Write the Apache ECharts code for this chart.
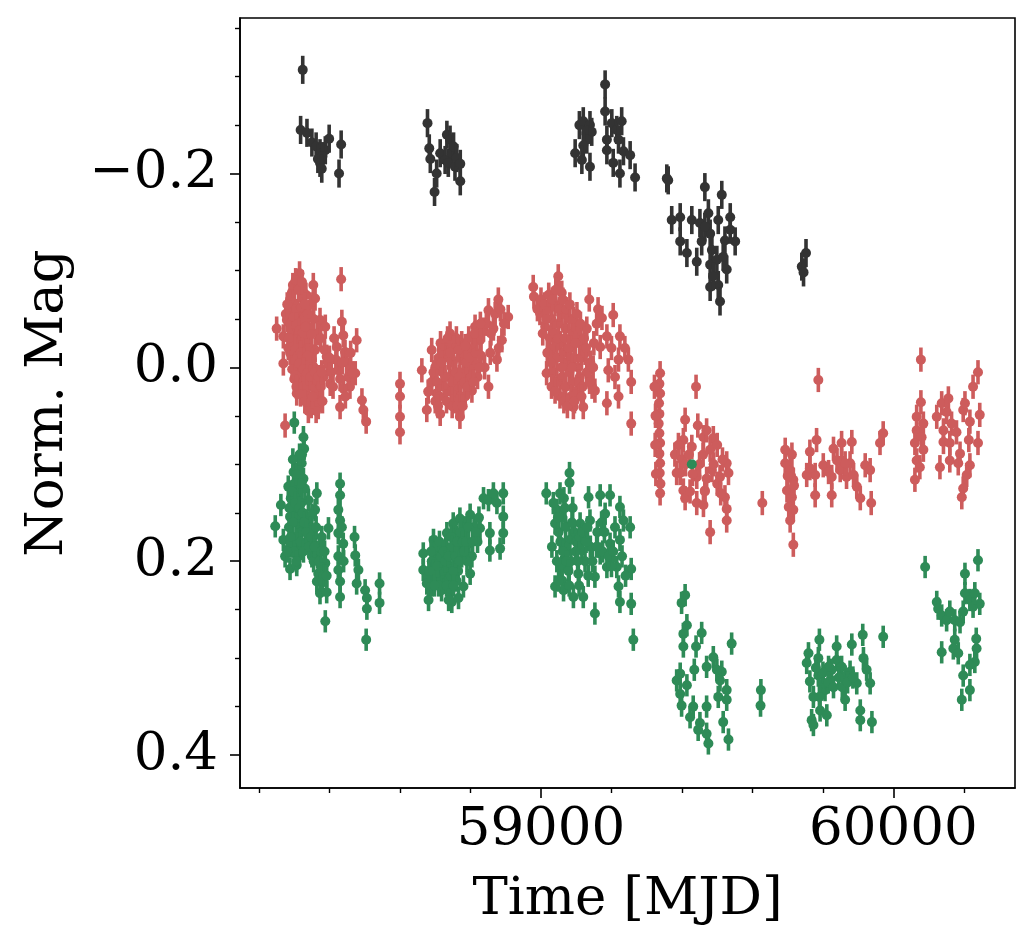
<!DOCTYPE html>
<html>
<head>
<meta charset="utf-8">
<script src="https://cdn.jsdelivr.net/npm/echarts@6/dist/echarts.min.js"></script>
<style>
html,body{margin:0;padding:0;background:#fff;}
#chart{width:1035px;height:949px;}
</style>
</head>
<body>
<div id="chart"></div>
<script>
// light curve points [MJD, norm. mag]
var blackPts = [
	[58324,-0.307],[58318,-0.245],[58336,-0.242],[58350,-0.232],[58362,-0.228],[58373,-0.221],[58388,-0.224],[58373,-0.211],[58367,-0.215],[58380,-0.218],[58378,-0.205],[58399,-0.236],[58433,-0.230],[58427,-0.200],
	[58678,-0.252],[58683,-0.226],[58686,-0.215],[58698,-0.181],[58704,-0.200],[58714,-0.221],[58728,-0.214],[58733,-0.240],[58737,-0.211],[58742,-0.235],[58747,-0.221],[58752,-0.228],[58756,-0.207],[58761,-0.216],[58771,-0.210],[58771,-0.192],
	[59182,-0.292],[59182,-0.264],[59109,-0.250],[59120,-0.254],[59139,-0.250],[59144,-0.243],[59130,-0.235],[59120,-0.229],[59097,-0.221],[59116,-0.214],[59139,-0.207],[59187,-0.235],[59187,-0.224],[59201,-0.252],[59215,-0.245],[59229,-0.254],[59220,-0.235],[59205,-0.211],[59224,-0.200],[59234,-0.223],[59253,-0.219],[59267,-0.196],[59357,-0.195],[59361,-0.193],
	[59465,-0.186],[59513,-0.178],[59371,-0.152],[59395,-0.155],[59428,-0.152],[59451,-0.149],[59475,-0.159],[59503,-0.152],[59537,-0.155],[59395,-0.130],[59414,-0.118],[59442,-0.109],[59456,-0.130],[59480,-0.138],[59485,-0.121],[59480,-0.106],[59499,-0.111],[59522,-0.131],[59551,-0.130],[59527,-0.101],[59480,-0.083],[59503,-0.085],[59508,-0.068],[59489,-0.094],[59517,-0.114],[59537,-0.142],[59465,-0.145],
	[59752,-0.118],[59740,-0.104],[59745,-0.098]
];
var redPts = [
	[58315,-0.097],[58354,-0.085],[58433,-0.091],[58293,-0.077],[58326,-0.077],[58359,-0.071],[58279,-0.049],[58250,-0.040],[58269,-0.032],[58317,-0.046],[58373,-0.049],[58388,-0.042],[58435,-0.047],[58439,-0.033],[58477,-0.028],[58288,-0.015],[58326,-0.021],[58359,-0.018],[58392,-0.011],[58421,-0.021],[58444,-0.016],[58269,-0.004],[58317,0.003],[58354,-0.001],[58383,0.010],[58425,0.003],[58458,-0.001],[58473,0.006],[58307,0.027],[58359,0.034],[58402,0.017],[58458,0.020],[58492,0.034],[58496,0.044],[58504,0.056],[58430,0.041],[58368,0.041],[58274,0.060],
	[58290,-0.060],[58300,-0.066],[58310,-0.058],[58320,-0.062],[58330,-0.052],[58340,-0.040],[58295,-0.035],[58305,-0.030],[58315,-0.025],[58335,-0.028],[58345,-0.020],[58350,-0.008],[58298,-0.010],[58308,-0.002],[58320,0.006],[58332,0.012],[58342,0.020],[58355,0.018],[58365,0.024],[58375,0.020],[58312,0.014],[58325,0.020],[58338,0.030],[58348,0.040],[58362,0.045],[58300,0.012],[58283,-0.020],[58276,-0.055],[58333,-0.075],[58345,-0.065],[58355,-0.050],[58365,-0.035],[58375,-0.030],[58386,-0.018],[58395,-0.005],[58405,0.005],[58413,-0.030],[58418,-0.008],[58430,0.012],[58440,0.022],[58448,-0.005],[58453,0.010],[58465,0.006],
	[58288,-0.070],[58296,-0.085],[58304,-0.090],[58312,-0.080],[58322,-0.088],[58330,-0.065],[58338,-0.055],[58290,-0.045],[58298,-0.052],[58306,-0.044],[58314,-0.038],[58324,-0.036],[58332,-0.042],[58348,-0.034],[58292,-0.025],[58302,-0.018],[58310,-0.012],[58318,-0.015],[58328,-0.008],[58338,-0.012],[58344,0.000],[58294,0.002],[58304,0.008],[58314,-0.004],[58326,0.002],[58336,0.006],[58346,0.010],[58358,0.005],[58368,0.010],[58378,0.005],[58306,0.020],[58318,0.028],[58330,0.035],[58340,0.045],[58352,0.030],[58280,-0.065],[58284,-0.030],[58400,-0.010],[58410,0.020],[58436,-0.005],[58445,0.030],[58460,-0.015],[58380,0.035],
	[58600,0.017],[58600,0.030],[58600,0.051],[58600,0.067],
	[58662,0.003],[58676,0.044],[58690,-0.018],[58714,0.048],[58704,0.027],[58742,-0.035],[58770,0.051],[58770,0.034],[58804,0.024],[58813,-0.042],[58837,-0.039],[58851,-0.059],[58879,-0.070],[58907,-0.052],[58856,-0.015],[58875,-0.008],[58851,0.020],[58889,-0.028],[58827,-0.028],
	[58700,0.000],[58710,-0.010],[58720,0.005],[58730,-0.020],[58740,0.010],[58750,-0.005],[58760,0.015],[58770,-0.010],[58780,0.005],[58790,-0.015],[58800,0.000],[58810,-0.005],[58820,0.010],[58725,0.020],[58745,0.025],[58755,0.035],[58765,0.020],[58785,0.030],[58795,0.012],[58715,-0.025],[58735,-0.030],[58760,-0.030],[58775,-0.025],[58795,-0.030],[58805,-0.020],[58690,0.015],[58680,0.025],[58700,0.035],[58830,-0.012],[58840,0.000],[58845,-0.045],[58865,-0.040],[58870,-0.055],[58885,-0.060],[58895,-0.045],
	[58695,0.005],[58705,0.015],[58712,0.030],[58722,-0.012],[58728,0.010],[58738,-0.010],[58748,0.015],[58752,-0.020],[58758,0.005],[58768,0.010],[58772,0.030],[58778,-0.015],[58782,0.015],[58788,-0.005],[58792,0.020],[58798,-0.010],[58802,0.010],[58808,0.015],[58815,-0.015],[58818,-0.030],[58825,0.000],[58708,0.040],[58732,0.035],[58748,0.040],[58762,0.040],[58778,0.040],[58718,-0.005],[58742,-0.015],[58765,-0.018],[58785,-0.022],[58812,-0.035],[58828,-0.045],[58858,-0.035],[58880,-0.020],
	[58978,-0.083],[58980,-0.073],[59049,-0.094],[58997,-0.056],[59012,-0.042],[59059,-0.077],[59137,-0.070],[59173,-0.051],[59205,-0.054],[59224,-0.032],[59248,-0.008],[59256,0.015],[59256,0.058],[59016,0.006],[59054,0.030],[59092,0.041],[59120,0.041],[59153,0.024],[59187,0.037],[59220,0.030],[59191,0.003],[59220,-0.008],[59168,-0.021],[59187,-0.032],
	[59020,-0.060],[59030,-0.050],[59040,-0.065],[59050,-0.045],[59060,-0.055],[59070,-0.040],[59080,-0.050],[59090,-0.035],[59100,-0.040],[59110,-0.025],[59025,-0.030],[59035,-0.020],[59045,-0.010],[59055,-0.025],[59065,-0.015],[59075,-0.005],[59085,-0.020],[59095,-0.010],[59105,0.000],[59115,-0.010],[59125,-0.015],[59035,0.005],[59045,0.015],[59060,0.010],[59070,0.020],[59080,0.005],[59090,0.015],[59100,0.025],[59110,0.010],[59130,0.005],[59140,-0.005],[59150,-0.025],[59065,0.035],[59085,0.030],[59030,0.020],[59005,-0.035],[59130,-0.040],[59145,0.020],
	[58990,-0.060],[59000,-0.070],[59010,-0.065],[59015,-0.050],[59022,-0.075],[59032,-0.070],[59042,-0.080],[59052,-0.060],[59062,-0.070],[59072,-0.060],[59082,-0.065],[59092,-0.050],[59102,-0.055],[59112,-0.045],[59122,-0.030],[59018,-0.015],[59028,-0.005],[59038,-0.035],[59048,-0.030],[59058,0.000],[59068,-0.030],[59078,-0.020],[59088,0.000],[59098,-0.025],[59108,0.015],[59118,0.020],[59128,-0.020],[59138,0.015],[59148,0.000],[59158,-0.045],[59040,0.025],[59075,0.040],[59095,0.035],[59115,0.030],[59162,-0.060],[59200,-0.020],[59210,0.010],[59238,-0.020],
	[59338,0.006],[59336,0.017],[59338,0.027],[59335,0.037],[59336,0.048],[59334,0.058],[59336,0.068],[59338,0.078],[59336,0.089],[59338,0.099],[59337,0.109],[59339,0.120],[59338,0.130],[59322,0.020],[59325,0.050],[59324,0.080],[59326,0.110],
	[59440,0.020],[59409,0.054],[59404,0.075],[59428,0.082],[59461,0.072],[59489,0.073],[59395,0.109],[59404,0.127],[59442,0.113],[59465,0.127],[59442,0.140],[59485,0.106],[59508,0.113],[59527,0.099],[59532,0.109],[59522,0.134],[59628,0.140],[59480,0.170],[59527,0.158],[59527,0.146],[59461,0.142],[59409,0.135],[59385,0.109],[59423,0.128],[59465,0.128],
	[59380,0.090],[59390,0.080],[59400,0.095],[59410,0.100],[59420,0.090],[59430,0.110],[59450,0.100],[59460,0.090],[59470,0.115],[59480,0.085],[59490,0.100],[59500,0.120],[59510,0.130],[59445,0.060],[59470,0.065],[59500,0.080],[59515,0.095],
	[59787,0.013],[59693,0.099],[59707,0.106],[59716,0.116],[59698,0.127],[59712,0.134],[59703,0.144],[59716,0.147],[59707,0.158],[59716,0.183],[59693,0.085],[59712,0.090],[59700,0.112],[59718,0.122],[59763,0.087],[59754,0.111],[59778,0.111],[59782,0.075],[59778,0.132],[59801,0.101],[59825,0.113],[59825,0.132],[59830,0.084],[59853,0.078],[59853,0.096],[59849,0.106],[59882,0.077],[59877,0.099],[59867,0.113],[59896,0.123],[59906,0.135],[59920,0.101],[59934,0.106],[59937,0.140],[59962,0.078],[59971,0.068],[59816,0.108],[59840,0.096],[59863,0.099],[59887,0.111],[59763,0.104],
	[60078,-0.008],[60078,0.036],[60066,0.051],[60085,0.058],[60066,0.065],[60080,0.072],[60061,0.078],[60085,0.085],[60066,0.096],[60075,0.103],[60061,0.116],[60123,0.051],[60137,0.037],[60156,0.032],[60151,0.046],[60142,0.065],[60142,0.077],[60165,0.058],[60179,0.067],[60160,0.078],[60132,0.103],[60160,0.096],[60184,0.099],[60198,0.044],[60203,0.037],[60217,0.056],[60226,0.020],[60240,0.005],[60245,0.049],[60240,0.078],[60214,0.075],[60217,0.101],[60208,0.111],[60198,0.125],[60194,0.134],[60189,0.089]
];
var greenPts = [
	[58300,0.057],[58326,0.072],[58328,0.084],[58246,0.164],[58262,0.142],[58274,0.195],[58288,0.208],[58307,0.204],[58312,0.195],[58298,0.108],[58321,0.099],[58283,0.123],[58326,0.115],[58364,0.130],[58359,0.147],[58288,0.154],[58317,0.165],[58331,0.182],[58354,0.175],[58350,0.195],[58368,0.213],[58364,0.221],[58373,0.233],[58392,0.232],[58388,0.202],[58397,0.166],[58388,0.262],[58430,0.120],[58430,0.132],[58425,0.147],[58430,0.158],[58425,0.171],[58439,0.182],[58425,0.195],[58425,0.209],[58430,0.221],[58430,0.237],[58471,0.175],[58473,0.194],[58482,0.209],[58477,0.223],[58501,0.230],[58506,0.238],[58506,0.249],[58542,0.223],[58542,0.243],[58504,0.281],[58269,0.178],[58307,0.134],[58340,0.137],[58336,0.158],[58373,0.185],[58350,0.152],[58302,0.182],
	[58290,0.135],[58295,0.145],[58300,0.150],[58310,0.125],[58315,0.160],[58320,0.170],[58305,0.175],[58285,0.165],[58292,0.185],[58310,0.190],[58320,0.140],[58330,0.125],[58345,0.165],[58355,0.200],[58365,0.190],[58375,0.205],[58380,0.220],[58378,0.175],[58300,0.120],[58312,0.105],[58322,0.090],
	[58286,0.145],[58294,0.128],[58302,0.140],[58308,0.155],[58314,0.145],[58318,0.120],[58324,0.150],[58328,0.160],[58296,0.160],[58290,0.175],[58300,0.190],[58306,0.200],[58318,0.180],[58326,0.190],[58334,0.170],[58342,0.185],[58348,0.175],[58358,0.185],[58362,0.165],[58370,0.200],[58376,0.190],[58384,0.215],[58386,0.190],[58392,0.215],[58305,0.110],[58315,0.090],[58296,0.095],[58280,0.190],[58440,0.200],[58435,0.165],
	[58666,0.192],[58666,0.209],[58676,0.223],[58681,0.240],[58695,0.178],[58704,0.195],[58718,0.213],[58718,0.230],[58747,0.242],[58766,0.238],[58733,0.171],[58751,0.161],[58770,0.156],[58799,0.152],[58794,0.182],[58804,0.195],[58799,0.213],[58780,0.226],[58827,0.166],[58837,0.135],[58855,0.171],[58855,0.189],[58884,0.187],[58893,0.171],[58893,0.130],[58893,0.154],[58875,0.140],[58851,0.137],[58865,0.130],
	[58690,0.200],[58700,0.215],[58710,0.190],[58720,0.200],[58730,0.185],[58740,0.205],[58750,0.190],[58760,0.175],[58770,0.185],[58780,0.170],[58790,0.200],[58700,0.185],[58710,0.225],[58725,0.210],[58735,0.220],[58745,0.175],[58755,0.205],[58765,0.210],[58775,0.195],[58785,0.165],[58690,0.225],[58740,0.230],[58760,0.220],[58810,0.165],[58820,0.180],
	[58682,0.210],[58688,0.190],[58694,0.210],[58698,0.225],[58706,0.205],[58712,0.180],[58716,0.195],[58724,0.190],[58728,0.200],[58732,0.225],[58738,0.195],[58744,0.215],[58748,0.185],[58752,0.210],[58758,0.195],[58762,0.180],[58768,0.200],[58772,0.170],[58778,0.180],[58782,0.190],[58788,0.180],[58794,0.165],[58806,0.180],[58815,0.170],[58824,0.155],[58752,0.225],[58738,0.240],
	[59015,0.130],[59081,0.109],[59081,0.119],[59054,0.130],[59135,0.134],[59168,0.132],[59196,0.132],[59224,0.144],[59253,0.165],[59045,0.147],[59040,0.161],[59031,0.185],[59040,0.226],[59064,0.230],[59092,0.237],[59120,0.237],[59153,0.254],[59224,0.242],[59256,0.244],[59256,0.208],[59262,0.281],[59059,0.206],[59082,0.178],[59111,0.161],[59139,0.158],[59116,0.189],[59106,0.213],[59153,0.216],[59182,0.151],[59196,0.182],[59187,0.206],[59215,0.206],[59220,0.226],[59224,0.178],[59234,0.158],[59168,0.192],
	[59050,0.170],[59060,0.155],[59070,0.165],[59075,0.190],[59085,0.200],[59095,0.170],[59065,0.135],[59090,0.145],[59100,0.180],[59060,0.220],[59070,0.185],[59045,0.200],[59125,0.200],[59140,0.185],[59160,0.170],[59175,0.190],[59200,0.205],[59210,0.165],
	[59035,0.140],[59048,0.155],[59055,0.180],[59062,0.190],[59068,0.145],[59072,0.200],[59078,0.210],[59088,0.160],[59098,0.190],[59104,0.200],[59110,0.175],[59118,0.170],[59128,0.180],[59132,0.165],[59146,0.200],[59158,0.185],[59172,0.160],[59180,0.170],[59192,0.195],[59205,0.190],[59230,0.195],[59240,0.215],[59050,0.220],[59080,0.225],[59108,0.225],[59134,0.215],
	[59409,0.235],[59399,0.243],[59414,0.266],[59404,0.275],[59404,0.288],[59456,0.274],[59440,0.288],[59541,0.285],[59435,0.312],[59470,0.309],[59489,0.299],[59513,0.314],[59385,0.323],[59395,0.316],[59414,0.328],[59395,0.337],[59399,0.349],[59432,0.350],[59470,0.350],[59503,0.340],[59527,0.333],[59527,0.343],[59423,0.361],[59451,0.367],[59446,0.374],[59470,0.378],[59475,0.388],[59517,0.366],[59532,0.384],[59624,0.333],[59623,0.349],[59508,0.323],[59499,0.312],
	[59790,0.281],[59759,0.295],[59754,0.305],[59787,0.300],[59763,0.324],[59773,0.340],[59768,0.364],[59773,0.369],[59792,0.354],[59811,0.359],[59806,0.333],[59787,0.318],[59839,0.288],[59839,0.302],[59825,0.312],[59853,0.309],[59863,0.319],[59882,0.286],[59913,0.276],[59915,0.300],[59924,0.312],[59934,0.326],[59896,0.326],[59863,0.343],[59906,0.354],[59906,0.364],[59939,0.366],[59971,0.278],[59877,0.314],[59816,0.309],[59801,0.326],
	[59800,0.315],[59815,0.325],[59830,0.330],[59845,0.320],[59855,0.330],[59870,0.325],[59885,0.320],[59790,0.340],[59780,0.310],
	[60090,0.206],[60240,0.199],[60203,0.213],[60203,0.233],[60123,0.242],[60127,0.249],[60137,0.256],[60151,0.261],[60160,0.252],[60174,0.261],[60189,0.263],[60198,0.252],[60217,0.240],[60226,0.247],[60245,0.244],[60231,0.233],[60137,0.294],[60174,0.281],[60170,0.290],[60184,0.295],[60235,0.280],[60236,0.290],[60231,0.304],[60217,0.307],[60198,0.318],[60217,0.333],[60194,0.343]
];
// lone green point sitting inside the red cloud (no visible error bar)
var greenOdd = [[59428,0.100]];

// typical 1-sigma errors per band
var blackErr = 0.0145;
var redErr = 0.0125;
var greenErr = 0.0115;
var greenOddErr = 0.002;

// axis ticks
var xMajor = [59000, 60000];
var xMinor = [58200, 58400, 58600, 58800, 59200, 59400, 59600, 59800, 60200];
var yMajor = [-0.2, 0.0, 0.2, 0.4];
var yMinor = [-0.35, -0.3, -0.25, -0.15, -0.1, -0.05, 0.05, 0.1, 0.15, 0.25, 0.3, 0.35];

var font = 'DejaVu Serif';
var fs = 53;

function withErr(pts, e){
	return pts.map(function(p){ return [p[0], p[1], e]; });
}

function renderErr(params, api){
	var x = api.value(0), y = api.value(1), e = api.value(2);
	var c = api.coord([x, y]);
	var lo = api.coord([x, y - e]);
	var hi = api.coord([x, y + e]);
	var color = api.visual('color');
	return {
		type: 'group',
		children: [
			{type: 'line', shape: {x1: c[0], y1: lo[1], x2: c[0], y2: hi[1]}, style: {stroke: color, lineWidth: 3.6}},
			{type: 'circle', shape: {cx: c[0], cy: c[1], r: 5}, style: {fill: color}}
		]
	};
}

var chart = echarts.init(document.getElementById('chart'));
var xBase = {type: 'value', min: 58146, max: 60345, splitLine: {show: false}, position: 'bottom'};
var yBase = {type: 'value', min: -0.3605, max: 0.434, inverse: true, splitLine: {show: false}, position: 'left'};

var option = {
	animation: false,
	grid: {left: 240, right: 20, top: 18, bottom: 161, show: true, borderColor: '#000', borderWidth: 1.6},
	xAxis: [
		Object.assign({}, xBase, {
			name: 'Time [MJD]',
			nameLocation: 'middle',
			nameGap: 86,
			nameTextStyle: {fontFamily: font, fontSize: fs, color: '#000'},
			axisLine: {show: true, onZero: false, lineStyle: {color: '#000', width: 1.6}},
			axisTick: {show: true, length: 10, customValues: xMajor, lineStyle: {color: '#000', width: 1.6}},
			axisLabel: {
				show: true, customValues: xMajor, margin: 16, fontFamily: font, fontSize: fs, color: '#000',
				formatter: function(v){ return String(v); }
			}
		}),
		Object.assign({}, xBase, {
			axisLine: {show: false, onZero: false},
			axisTick: {show: true, length: 5, customValues: xMinor, lineStyle: {color: '#000', width: 1.4}},
			axisLabel: {show: false}
		})
	],
	yAxis: [
		Object.assign({}, yBase, {
			name: 'Norm. Mag',
			nameLocation: 'middle',
			nameRotate: 90,
			nameGap: 165,
			nameTextStyle: {fontFamily: font, fontSize: fs, color: '#000'},
			axisLine: {show: true, onZero: false, lineStyle: {color: '#000', width: 1.6}},
			axisTick: {show: true, length: 10, customValues: yMajor, lineStyle: {color: '#000', width: 1.6}},
			axisLabel: {
				show: true, customValues: yMajor, margin: 22, fontFamily: font, fontSize: fs, color: '#000',
				formatter: function(v){ return (v < 0 ? '\u2212' : '') + Math.abs(v).toFixed(1); }
			}
		}),
		Object.assign({}, yBase, {
			axisLine: {show: false, onZero: false},
			axisTick: {show: true, length: 5, customValues: yMinor, lineStyle: {color: '#000', width: 1.4}},
			axisLabel: {show: false}
		})
	],
	series: [
		{type: 'custom', name: 'black', xAxisIndex: 0, yAxisIndex: 0, itemStyle: {color: '#333333'}, renderItem: renderErr, data: withErr(blackPts, blackErr)},
		{type: 'custom', name: 'red', xAxisIndex: 0, yAxisIndex: 0, itemStyle: {color: '#cd5c5c'}, renderItem: renderErr, data: withErr(redPts, redErr)},
		{type: 'custom', name: 'green', xAxisIndex: 0, yAxisIndex: 0, itemStyle: {color: '#2e8b57'}, renderItem: renderErr, data: withErr(greenPts, greenErr).concat(withErr(greenOdd, greenOddErr))}
	]
};
chart.setOption(option);
</script>
</body>
</html>
